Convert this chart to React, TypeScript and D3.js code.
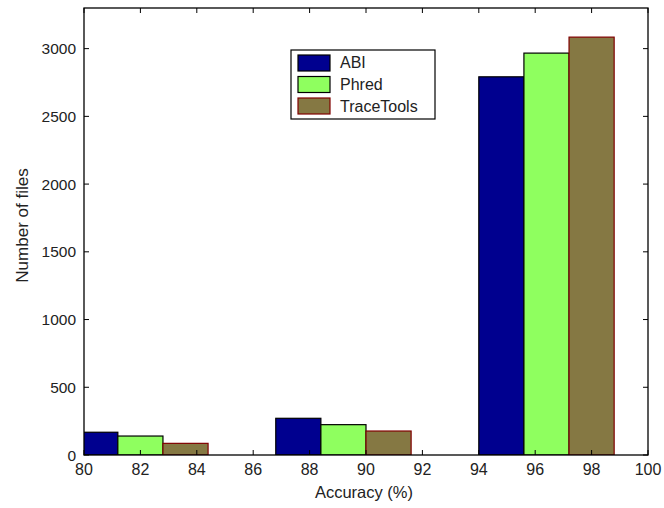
import React from "react";
import * as d3 from "d3";

const groupCenters = [82, 89.2, 96.4];
const seriesNames = ["ABI", "Phred", "TraceTools"];
const abiValues = [168, 271, 2792];
const phredValues = [140, 224, 2967];
const traceToolsValues = [86, 177, 3085];
const xTicks = [80, 82, 84, 86, 88, 90, 92, 94, 96, 98, 100];
const yTicks = [0, 500, 1000, 1500, 2000, 2500, 3000];

const fills = ["#00008f", "#8fff5f", "#857843"];
const strokes = ["#000000", "#000000", "#800000"];

export default function App() {
  const W = 664, H = 508;
  const m = { left: 84, right: 16, top: 8, bottom: 53 };
  const x = d3.scaleLinear().domain([80, 100]).range([m.left, W - m.right]);
  const y = d3.scaleLinear().domain([0, 3300]).range([H - m.bottom, m.top]);
  const series = [abiValues, phredValues, traceToolsValues];
  const barW = 1.6;
  const font = "Liberation Sans, Arial, sans-serif";
  const x0 = x(80), x1 = x(100), y0 = y(0), y1 = y(3300);
  const tl = 5;
  return (
    <svg width={W} height={H} style={{ position: "absolute", left: 0, top: 0, background: "#fff" }}>
      <defs>
        <clipPath id="plot">
          <rect x={x0} y={y1} width={x1 - x0} height={y0 - y1} />
        </clipPath>
      </defs>
      <g clipPath="url(#plot)">
        {series.map((vals, si) =>
          vals.map((v, gi) => {
            const cx = groupCenters[gi] + (si - 1) * barW;
            const left = x(cx - barW / 2);
            const right = x(cx + barW / 2);
            return (
              <rect key={si + "-" + gi} x={left} y={y(v)} width={right - left} height={y0 - y(v)}
                fill={fills[si]} stroke={strokes[si]} strokeWidth={1.2} />
            );
          })
        )}
      </g>
      <rect x={x0} y={y1} width={x1 - x0} height={y0 - y1} fill="none" stroke="#000" strokeWidth={1.3} />
      {xTicks.map((t) => (
        <g key={"x" + t}>
          <line x1={x(t)} x2={x(t)} y1={y0} y2={y0 - tl} stroke="#000" />
          <line x1={x(t)} x2={x(t)} y1={y1} y2={y1 + tl} stroke="#000" />
          <text x={x(t)} y={y0 + 20} textAnchor="middle" fontFamily={font} fontSize={16} fill="#222">{t}</text>
        </g>
      ))}
      {yTicks.map((t) => (
        <g key={"y" + t}>
          <line x1={x0} x2={x0 + tl} y1={y(t)} y2={y(t)} stroke="#000" />
          <line x1={x1} x2={x1 - tl} y1={y(t)} y2={y(t)} stroke="#000" />
          <text x={x0 - 8} y={y(t) + 5.5} textAnchor="end" fontFamily={font} fontSize={15.5} fill="#222">{t}</text>
        </g>
      ))}
      <text x={364} y={498} textAnchor="middle" fontFamily={font} fontSize={16.5} fill="#222">Accuracy (%)</text>
      <text transform={`translate(28, 225.5) rotate(-90)`} textAnchor="middle" fontFamily={font} fontSize={17} fill="#222">Number of files</text>
      <g>
        <rect x={291} y={50} width={144} height={69} fill="#fff" stroke="#000" strokeWidth={1.2} />
        {seriesNames.map((n, i) => (
          <g key={n}>
            <rect x={298} y={55 + i * 21.5} width={32} height={16} fill={fills[i]} stroke={strokes[i]} strokeWidth={1.2} />
            <text x={340} y={67.5 + i * 22} fontFamily={font} fontSize={16} fill="#222">{n}</text>
          </g>
        ))}
      </g>
    </svg>
  );
}
